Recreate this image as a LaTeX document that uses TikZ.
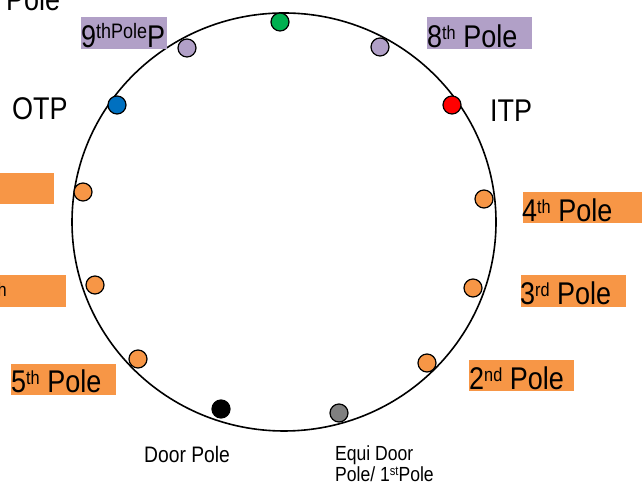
\documentclass[tikz,border=0pt]{standalone}
\usepackage{fontspec}
\setmainfont{Liberation Sans}[FakeStretch=0.86]
\usepackage{xcolor}

\definecolor{polelav}{HTML}{B1A0C7}
\definecolor{poleorg}{HTML}{F79646}
\definecolor{polegreen}{HTML}{00B050}
\definecolor{poleblue}{HTML}{0070C0}
\definecolor{polegrey}{HTML}{808080}

\newcommand{\bigtxt}{\fontsize{31.5}{33}\selectfont}
\newcommand{\smtxt}{\fontsize{20.5}{21.5}\selectfont}
\newcommand{\upth}[1]{\raisebox{8bp}{\fontsize{19}{19}\selectfont #1}}
\newcommand{\upst}[1]{\raisebox{6bp}{\fontsize{13}{13}\selectfont #1}}

\begin{document}
\begin{tikzpicture}[x=1bp,y=1bp,
    every node/.style={inner sep=0pt},
    bigl/.style={font=\bigtxt, anchor=base west},
    smalll/.style={font=\smtxt, anchor=base west, align=left},
    dot/.style={circle, draw, line width=1.2bp, minimum size=18bp}]
    \useasboundingbox (0,0) rectangle (644,486);
    \clip (0,0) rectangle (644,486);

    % ring
    \draw[line width=1.6bp] (284,264) ellipse [x radius=212, y radius=209];

    % label boxes
    \fill[polelav] (81,469) rectangle (167,437);
    \fill[polelav] (427,469) rectangle (532,437);
    \fill[poleorg] (523,294) rectangle (642,263);
    \fill[poleorg] (521,211) rectangle (626,179);
    \fill[poleorg] (469,126) rectangle (574,95);
    \fill[poleorg] (11,122) rectangle (116,91);
    \fill[poleorg] (0,313) rectangle (54,282);
    \fill[poleorg] (0,211) rectangle (66,179);

    % poles on the ring
    \node[dot, fill=polegreen] (top) at (280,464) {};
    \node[dot, fill=polelav] (p9) at (187,438) {};
    \node[dot, fill=polelav] (p8) at (380,439) {};
    \node[dot, fill=poleblue] (otp) at (117,381) {};
    \node[dot, fill=red] (itp) at (452,381) {};
    \node[dot, fill=poleorg] (p7) at (83,294) {};
    \node[dot, fill=poleorg] (p6) at (95,201) {};
    \node[dot, fill=poleorg] (p4) at (484,287) {};
    \node[dot, fill=poleorg] (p3) at (473,198) {};
    \node[dot, fill=poleorg] (p5) at (138,127) {};
    \node[dot, fill=poleorg] (p2) at (427,123) {};
    \node[dot, fill=black] (door) at (221,77) {};
    \node[dot, fill=polegrey] (equi) at (339,73) {};

    % labels
    \node[bigl] (toplbl) at (6,475) {Pole};
    \node[bigl] (p9lbl) at (81,438)
        {9\raisebox{9bp}{\fontsize{21}{21}\selectfont thPole}P};
    \node[bigl] (p8lbl) at (427,438) {8\upth{th} Pole};
    \node[bigl] (otplbl) at (12,366) {OTP};
    \node[bigl] (itplbl) at (490,364) {ITP};
    \node[bigl] (p4lbl) at (522,264) {4\upth{th} Pole};
    \node[bigl] (p3lbl) at (520,181) {3\upth{rd} Pole};
    \node[bigl] (p2lbl) at (469,96) {2\upth{nd} Pole};
    \node[bigl] (p5lbl) at (11,93) {5\upth{th} Pole};
    \node[font=\bigtxt, anchor=base east] (p6lbl) at (7,181) {\upth{th}};
    \node[smalll, font=\fontsize{22.5}{24}\selectfont] (doorlbl) at (144,23)
        {Door Pole};
    \node[smalll] (equilbl) at (335,4) {Equi Door\\Pole/ 1\upst{st}Pole};
\end{tikzpicture}
\end{document}
